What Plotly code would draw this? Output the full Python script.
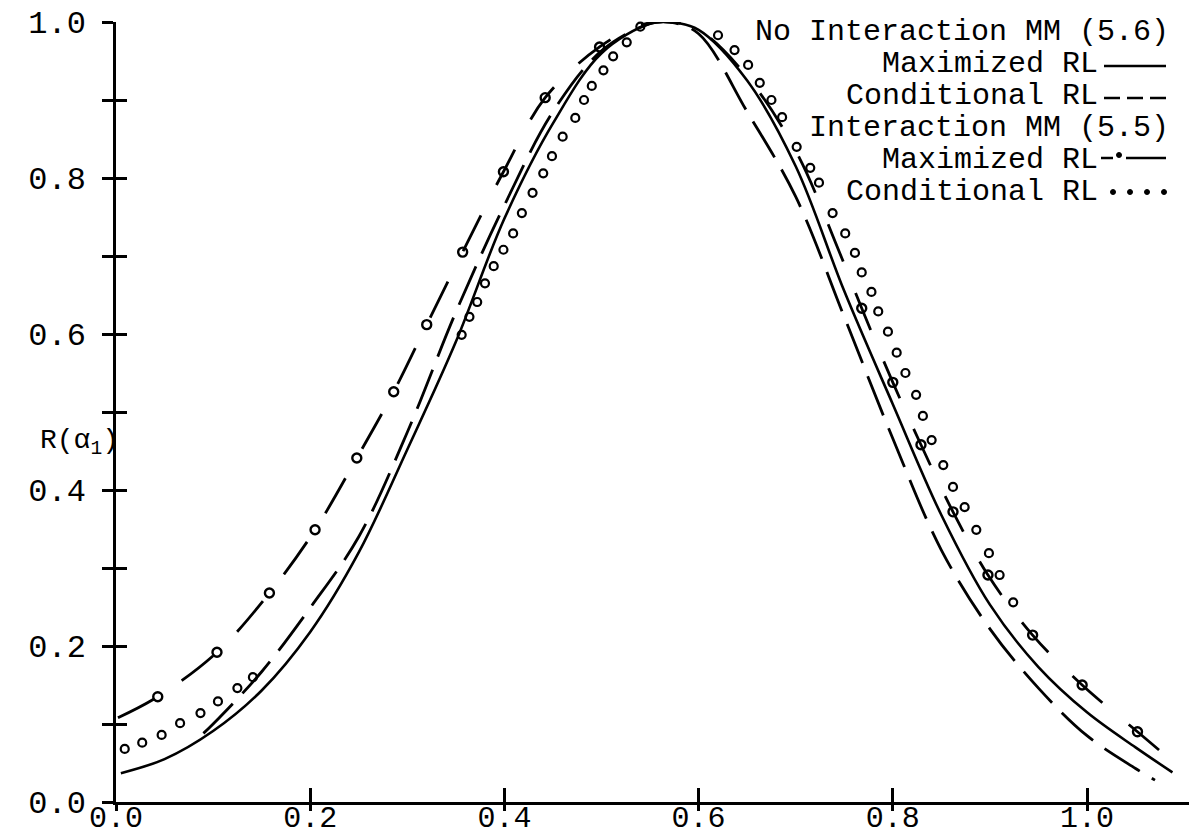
import plotly.graph_objects as go

# ---------------- data ----------------
alpha_ticks = [0.0, 0.2, 0.4, 0.6, 0.8, 1.0]
alpha_tick_text = ["0.0", "0.2", "0.4", "0.6", "0.8", "1.0"]
r_ticks = [0.0, 0.2, 0.4, 0.6, 0.8, 1.0]
r_tick_text = ["0.0", "0.2", "0.4", "0.6", "0.8", "1.0"]
r_minor_ticks = [0.1, 0.3, 0.5, 0.7, 0.9]

# No interaction MM (5.6), maximized RL (solid)
noint_max_x = [0.005, 0.05, 0.10, 0.15, 0.20, 0.25, 0.30, 0.35, 0.40, 0.45, 0.50, 0.55, 0.57,
               0.60, 0.65, 0.70, 0.75, 0.80, 0.85, 0.90, 0.95, 1.00, 1.05, 1.088]
noint_max_y = [0.037, 0.055, 0.091, 0.143, 0.218, 0.320, 0.452, 0.590, 0.748, 0.870, 0.960, 0.998, 1.0,
               0.990, 0.925, 0.815, 0.655, 0.510, 0.368, 0.253, 0.173, 0.115, 0.070, 0.038]

# No interaction MM (5.6), conditional RL (long dashes)
noint_cond_x = [0.09, 0.10, 0.15, 0.20, 0.25, 0.30, 0.35, 0.40, 0.45, 0.50, 0.55, 0.57,
                0.60, 0.65, 0.70, 0.75, 0.80, 0.85, 0.90, 0.95, 1.00, 1.05, 1.07]
noint_cond_y = [0.088, 0.100, 0.167, 0.249, 0.340, 0.474, 0.628, 0.765, 0.885, 0.963, 0.998, 1.0,
                0.985, 0.885, 0.776, 0.622, 0.466, 0.323, 0.222, 0.146, 0.085, 0.043, 0.028]

# Interaction MM (5.5), maximized RL (dash with circles)
int_max_x = [0.002, 0.043, 0.104, 0.158, 0.205, 0.248, 0.286, 0.320, 0.357, 0.399, 0.442, 0.498, 0.54,
             0.57, 0.60, 0.65, 0.70, 0.744, 0.768, 0.800, 0.829, 0.862, 0.898, 0.944, 0.995, 1.052, 1.089]
int_max_y = [0.108, 0.135, 0.192, 0.268, 0.349, 0.441, 0.526, 0.612, 0.705, 0.808, 0.903, 0.968, 0.996,
             1.0, 0.990, 0.930, 0.835, 0.708, 0.633, 0.538, 0.458, 0.372, 0.291, 0.214, 0.150, 0.090, 0.051]
int_max_circle_x = [0.043, 0.104, 0.158, 0.205, 0.248, 0.286, 0.320, 0.357, 0.399, 0.442, 0.498,
                    0.768, 0.800, 0.829, 0.862, 0.898, 0.944, 0.995, 1.052]
int_max_circle_y = [0.135, 0.192, 0.268, 0.349, 0.441, 0.526, 0.612, 0.705, 0.808, 0.903, 0.968,
                    0.633, 0.538, 0.458, 0.372, 0.291, 0.214, 0.150, 0.090]

# Interaction MM (5.5), conditional RL (circles)
int_cond_x = [0.009, 0.027, 0.047, 0.066, 0.087, 0.105, 0.125, 0.141,
              0.356, 0.364, 0.372, 0.380, 0.389, 0.399, 0.409, 0.418, 0.429, 0.440, 0.449, 0.460,
              0.473, 0.482, 0.490, 0.502, 0.512, 0.526, 0.540,
              0.620, 0.637, 0.651, 0.663, 0.675, 0.686, 0.701, 0.715, 0.724, 0.738, 0.751,
              0.761, 0.768, 0.778, 0.785, 0.795, 0.804, 0.813, 0.824, 0.831, 0.840, 0.852,
              0.862, 0.874, 0.886, 0.899, 0.910, 0.924]
int_cond_y = [0.068, 0.076, 0.086, 0.101, 0.114, 0.129, 0.146, 0.160,
              0.599, 0.622, 0.641, 0.665, 0.687, 0.708, 0.729, 0.755, 0.781, 0.806, 0.828, 0.853,
              0.877, 0.900, 0.918, 0.938, 0.956, 0.974, 0.994,
              0.983, 0.964, 0.945, 0.922, 0.900, 0.878, 0.840, 0.813, 0.794, 0.755, 0.729,
              0.704, 0.679, 0.654, 0.629, 0.603, 0.576, 0.550, 0.522, 0.495, 0.464, 0.432,
              0.404, 0.378, 0.349, 0.319, 0.291, 0.256]

legend_rows = ["No Interaction MM (5.6)", "Maximized RL", "Conditional RL",
               "Interaction MM (5.5)", "Maximized RL", "Conditional RL"]
y_title = "R(α<sub>1</sub>)"

# ---------------- figure ----------------
W, H = 1189, 837
ML, MR, MT, MB = 116, 0, 22, 35
PW, PH = W - ML - MR, H - MT - MB
X_MAX = PW / 971.0
FONT = "Liberation Mono, Courier New, monospace"
INK = "black"


def px(X):
    return (X - ML) / PW


def py(Y):
    return (H - MB - Y) / PH


fig = go.Figure()
fig.add_trace(go.Scatter(x=noint_max_x, y=noint_max_y, mode="lines",
                         line=dict(color=INK, width=2.6, shape="spline"), cliponaxis=False))
fig.add_trace(go.Scatter(x=noint_cond_x, y=noint_cond_y, mode="lines",
                         line=dict(color=INK, width=2.8, shape="spline", dash="42px,14px"),
                         cliponaxis=False))
fig.add_trace(go.Scatter(x=int_max_x, y=int_max_y, mode="lines",
                         line=dict(color=INK, width=2.8, shape="spline", dash="40px,34px"),
                         cliponaxis=False))
fig.add_trace(go.Scatter(x=int_max_circle_x, y=int_max_circle_y, mode="markers",
                         marker=dict(symbol="circle-open", size=9, color=INK, line=dict(width=2.4)),
                         cliponaxis=False))
fig.add_trace(go.Scatter(x=int_cond_x, y=int_cond_y, mode="markers",
                         marker=dict(symbol="circle-open", size=8, color=INK, line=dict(width=2.2)),
                         cliponaxis=False))
# empty trace so the overlay axes (inner half of the crossing ticks) are drawn
fig.add_trace(go.Scatter(x=[], y=[], xaxis="x2", yaxis="y2", hoverinfo="skip"))

shapes = []
# legend samples (typed symbols on the right)
shapes.append(dict(type="line", xref="paper", yref="paper", x0=px(1104), x1=px(1166),
                   y0=py(66), y1=py(66), line=dict(color=INK, width=2.5)))
shapes.append(dict(type="line", xref="paper", yref="paper", x0=px(1104), x1=px(1166),
                   y0=py(98), y1=py(98), line=dict(color=INK, width=2.5, dash="16px,7px")))
shapes.append(dict(type="line", xref="paper", yref="paper", x0=px(1101), x1=px(1113),
                   y0=py(158), y1=py(158), line=dict(color=INK, width=2.5)))
shapes.append(dict(type="line", xref="paper", yref="paper", x0=px(1126), x1=px(1166),
                   y0=py(158), y1=py(158), line=dict(color=INK, width=2.5)))
for Xd in [1119]:
    shapes.append(dict(type="circle", xref="paper", yref="paper", xsizemode="pixel",
                       ysizemode="pixel", xanchor=px(Xd), yanchor=py(155), x0=-2.5, x1=2.5,
                       y0=-2.5, y1=2.5, fillcolor=INK, line=dict(color=INK, width=1)))
for Xd in [1113, 1130, 1147, 1164]:
    shapes.append(dict(type="circle", xref="paper", yref="paper", xsizemode="pixel",
                       ysizemode="pixel", xanchor=px(Xd), yanchor=py(192), x0=-2.5, x1=2.5,
                       y0=-2.5, y1=2.5, fillcolor=INK, line=dict(color=INK, width=1)))

annotations = []
row_Y = [32, 64, 96, 128, 160, 192]
row_right = [1170, 1099, 1099, 1170, 1099, 1099]
for txt, Yr, Xr in zip(legend_rows, row_Y, row_right):
    annotations.append(dict(text=txt, xref="paper", yref="paper", x=px(Xr), y=py(Yr),
                            xanchor="right", yanchor="middle", showarrow=False, borderpad=0,
                            height=30, valign="middle",
                            font=dict(family=FONT, size=30, color=INK)))
annotations.append(dict(text=y_title, xref="paper", yref="paper", x=px(79), y=py(442),
                        xanchor="center", yanchor="middle", showarrow=False,
                        font=dict(family=FONT, size=28, color=INK)))

fig.update_layout(
    width=W, height=H,
    margin=dict(l=ML, r=MR, t=MT, b=MB, pad=0, autoexpand=False),
    paper_bgcolor="white", plot_bgcolor="white",
    showlegend=False,
    shapes=shapes,
    annotations=annotations,
    xaxis=dict(range=[0, X_MAX], showline=True, linecolor=INK, linewidth=2.5, showgrid=False,
               zeroline=False, tickvals=alpha_ticks, ticktext=alpha_tick_text,
               ticks="outside", ticklen=6, tickwidth=2.5, tickcolor=INK,
               tickfont=dict(family=FONT, size=30, color=INK), ticklabelstandoff=-20,
               automargin=False),
    yaxis=dict(range=[0, 1.0], showline=True, linecolor=INK, linewidth=2.5, showgrid=False,
               zeroline=False, tickvals=r_ticks, ticktext=r_tick_text,
               ticks="outside", ticklen=11, tickwidth=2.5, tickcolor=INK,
               minor=dict(tickvals=r_minor_ticks, ticks="outside", ticklen=11, tickwidth=2.5,
                          tickcolor=INK, showgrid=False),
               tickfont=dict(family=FONT, size=32, color=INK), ticklabelstandoff=10,
               automargin=False),
    xaxis2=dict(range=[0, X_MAX], overlaying="x", anchor="y2", showline=False, showgrid=False,
                zeroline=False, tickvals=alpha_ticks[1:], ticks="inside", ticklen=14,
                tickwidth=2.5, tickcolor=INK, showticklabels=False, automargin=False),
    yaxis2=dict(range=[0, 1.0], overlaying="y", anchor="x2", showline=False, showgrid=False,
                zeroline=False, tickvals=r_ticks[1:] + r_minor_ticks, ticks="inside", ticklen=11,
                tickwidth=2.5, tickcolor=INK, showticklabels=False, automargin=False),
)

fig.write_html("out.html")
